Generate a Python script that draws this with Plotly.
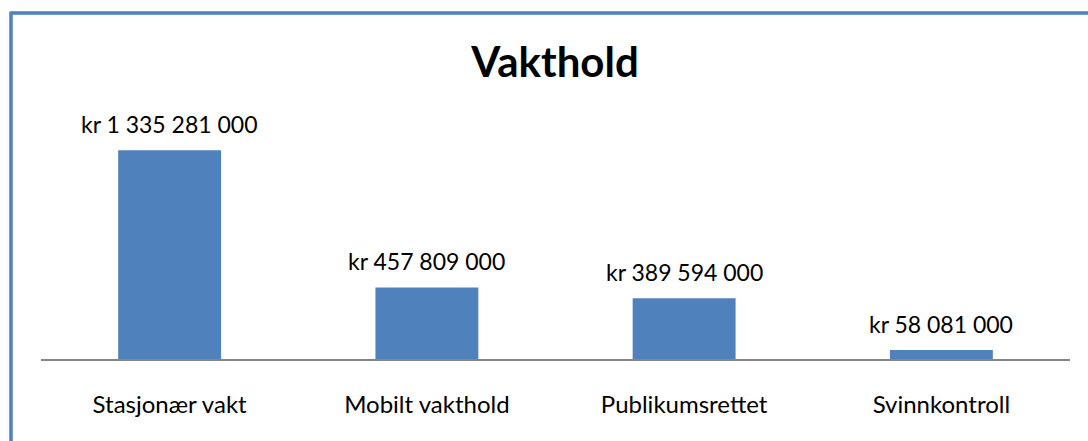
import plotly.graph_objects as go

categories = ["Stasjonær vakt", "Mobilt vakthold", "Publikumsrettet", "Svinnkontroll"]
values = [1335281000, 457809000, 389594000, 58081000]
title_text = "Vakthold"

def fmt(v):
    return "kr " + f"{v:,}".replace(",", " ")

labels = [fmt(v) for v in values]

W, H = 1088, 441
L, R, T, B = 41, 18, 109, 82
pw, ph = W - L - R, H - T - B

def px_x(x):
    return (x - L) / pw

def px_y(y):
    return (H - B - y) / ph

fig = go.Figure()
fig.add_trace(go.Bar(
    x=categories, y=values, width=0.4,
    marker=dict(color="#4F81BD", line=dict(width=0)),
    hoverinfo="skip",
))

for c, v, t in zip(categories, values, labels):
    fig.add_annotation(x=c, y=v, text=t, showarrow=False, yanchor="bottom",
                       yshift=10, font=dict(family="Lato", size=23, color="#000000"))

border = "#4F81BD"
fig.add_shape(type="line", xref="paper", yref="paper",
              x0=px_x(11), x1=px_x(1095), y0=px_y(13), y1=px_y(13),
              line=dict(color=border, width=3.5))
fig.add_shape(type="line", xref="paper", yref="paper",
              x0=px_x(11), x1=px_x(11), y0=px_y(11.5), y1=px_y(450),
              line=dict(color=border, width=3.5))

fig.update_layout(
    width=W, height=H,
    margin=dict(l=L, r=R, t=T, b=B, pad=0),
    paper_bgcolor="white", plot_bgcolor="white",
    showlegend=False,
    title=dict(text="<b>" + title_text + "</b>", x=555 / W, xanchor="center",
               y=1 - 62 / H, yanchor="middle",
               font=dict(family="Lato", size=42, color="#000000")),
    xaxis=dict(showline=True, linecolor="#868686", linewidth=1.5, ticks="",
               showgrid=False, ticklabelstandoff=23,
               tickfont=dict(family="Lato", size=24, color="#000000")),
    yaxis=dict(range=[0, 1600e6], visible=False, showgrid=False, zeroline=False),
    bargap=0.6,
)

fig.write_html("out.html")
